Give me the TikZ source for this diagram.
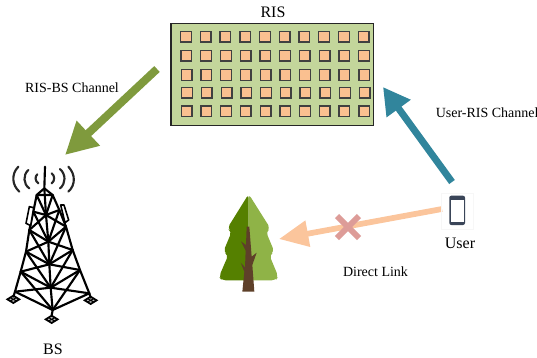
\documentclass[tikz,border=0pt]{standalone}
\usepackage{fontspec}
\setmainfont{Liberation Serif}
\usetikzlibrary{arrows.meta}
\definecolor{risfill}{HTML}{C3D69B}
\definecolor{cell}{HTML}{FAC090}
\definecolor{greenarrow}{HTML}{7F9A3D}
\definecolor{tealarrow}{HTML}{31859C}
\definecolor{peacharrow}{HTML}{FBC59C}
\definecolor{crossmark}{HTML}{DD9C98}
\definecolor{treedark}{HTML}{558000}
\definecolor{treelight}{HTML}{8FB347}
\definecolor{trunk}{HTML}{5E4029}
\definecolor{phone}{HTML}{3A4558}
\tikzset{
  big/.style={font=\fontsize{12}{14}\selectfont,inner sep=0pt,text=black},
  small/.style={font=\fontsize{10.5}{12}\selectfont,inner sep=0pt,text=black},
  cellbox/.style={draw=black!75,line width=1pt,fill=cell,minimum size=8pt,inner sep=0pt},
  tower/.style={line width=1.6pt,black,line join=round,line cap=round},
  wave/.style={line width=1.6pt,black!85,line cap=round},
  foot/.style={line width=1.3pt,black},
}
\begin{document}
\begin{tikzpicture}[x=0.75pt,y=-0.75pt]
\useasboundingbox (0,0) rectangle (537,358);
\clip (0,0) rectangle (537,358);
% RIS
\node[draw=black!85,line width=0.9pt,fill=risfill,minimum width=152pt,minimum height=77pt,inner sep=0pt] (ris) at (272.4,74.5) {};
\node[big] (ristext) at (273,12.5) {RIS};
\foreach \r/\y/\dx in {1/36.7/0,2/55.5/0.4,3/75/0.6,4/92.7/1.1,5/111.3/0.6}{
  \foreach \c in {0,...,9}{
    \node[cellbox] (c\r-\c) at ({186+\dx+19.73*\c},\y) {};
  }
}
% arrows
\coordinate (gs) at (157,69);
\coordinate (ge) at (65,155);
\coordinate (ts) at (452,182);
\coordinate (te) at (383,87);
\coordinate (ps) at (442,209);
\coordinate (pe) at (279,239);
\draw[line width=6pt,greenarrow,-{Triangle[length=24pt,width=24pt]}] (gs) -- (ge);
\draw[line width=5.2pt,tealarrow,-{Triangle[length=20pt,width=21pt]}] (ts) -- (te);
\draw[line width=4.3pt,peacharrow,-{Triangle[length=22pt,width=19pt]}] (ps) -- (pe);
% cross
\coordinate (xc) at (348,227);
\draw[crossmark,line width=4.3pt] ([shift={(-11,-11)}]xc) -- ([shift={(11,11)}]xc);
\draw[crossmark,line width=4.3pt] ([shift={(11,-11)}]xc) -- ([shift={(-11,11)}]xc);
% labels
\node[small] (rb) at (72,88) {RIS-BS Channel};
\node[small,anchor=west] (ur) at (435.5,113) {User-RIS Channel};
\node[small] (dl) at (375.5,272) {Direct Link};
\node[big] (user) at (460,243) {User};
\node[big] (bs) at (53,349) {BS};
% phone
\draw[black!3,line width=0.4pt] (441,193) rectangle (473,229);
\fill[phone,rounded corners=1.5pt] (449.3,195.7) rectangle (465,225);
\fill[white] (450.6,199.5) rectangle (463.7,221.5);
% tree
\begin{scope}[shift={(210,180)},x=0.25pt,y=-0.25pt]
\fill[treedark,rounded corners=3pt] (116,42) -- (52,145) -- (65,155) -- (40,215) -- (55,225) -- (27,290) -- (35,301) -- (116,301) -- cycle;
\fill[treelight,rounded corners=3pt] (116,42) -- (181,145) -- (168,155) -- (193,215) -- (178,225) -- (205,290) -- (197,301) -- (116,301) -- cycle;
\fill[trunk] (97,335) -- (133,335) -- (127,255) -- (140,218) -- (125,230) -- (118,140) -- (110,140) -- (108,195) -- (93,184) -- (107,212) -- (105,262) -- (92,248) -- (103,275) -- cycle;
\end{scope}
% tower
\begin{scope}[shift={(0,155)},x=0.25pt,y=-0.25pt]
\coordinate (top) at (133,100);
\coordinate (mast) at (135,35);
\coordinate (capl) at (110,120);
\coordinate (capr) at (158,120);
\coordinate (L1) at (100,170); \coordinate (R1) at (178,165); \coordinate (C1) at (138,180);
\coordinate (L2) at (88,225);  \coordinate (R2) at (198,215); \coordinate (C2) at (145,260);
\coordinate (L3) at (78,290);  \coordinate (R3) at (218,285); \coordinate (C3) at (148,328);
\coordinate (L4) at (62,350);  \coordinate (R4) at (240,345); \coordinate (C4) at (152,398);
\coordinate (L5) at (45,410);  \coordinate (R5) at (268,415); \coordinate (C5) at (158,465);
\draw[tower] (mast) -- (top) -- (C1) -- (C2) -- (C3) -- (C4) -- (C5);
\draw[tower] (capl) -- (top) -- (capr) -- (R1) -- (R2) -- (R3) -- (R4) -- (R5);
\draw[tower] (capr) -- (capl) -- (L1) -- (L2) -- (L3) -- (L4) -- (L5);
\draw[tower] (capl) -- (C1) -- (capr);
\draw[tower] (L1) -- (C1) -- (R1);
\draw[tower] (L1) -- (C2) -- (R1);
\draw[tower] (L2) -- (C1) -- (R2);
\draw[tower] (L2) -- (C2) -- (R2);
\draw[tower] (L2) -- (C3) -- (R2);
\draw[tower] (L3) -- (C2) -- (R3);
\draw[tower] (L3) -- (C3) -- (R3);
\draw[tower] (L3) -- (C4) -- (R3);
\draw[tower] (L4) -- (C3) -- (R4);
\draw[tower] (L4) -- (C4) -- (R4);
\draw[tower] (L4) -- (C5) -- (R4);
\draw[tower] (L5) -- (C4) -- (R5);
\draw[tower] (L5) -- (C5) -- (R5);
% panels
\draw[line width=1.2pt,black,fill=white,line join=round] (88,155) -- (101,158) -- (92,212) -- (78,205) -- cycle;
\draw[line width=1.2pt,black,fill=white,line join=round] (182,150) -- (192,150) -- (206,195) -- (195,203) -- cycle;
% radio waves
\draw[wave] (55,35) .. controls (33,58) and (36,90) .. (58,110);
\draw[wave] (85,45) .. controls (68,60) and (70,88) .. (88,100);
\draw[wave] (112,58) .. controls (104,65) and (105,78) .. (115,85);
\draw[wave] (155,55) .. controls (165,62) and (165,78) .. (155,85);
\draw[wave] (180,42) .. controls (198,58) and (198,85) .. (180,100);
\draw[wave] (205,35) .. controls (227,58) and (227,90) .. (205,110);
% feet
\foreach \fx/\fy in {40/433,272/436,155/493}{
  \draw[foot,fill=black!25] (\fx-18,\fy) -- (\fx,\fy-11) -- (\fx+18,\fy) -- (\fx,\fy+11) -- cycle;
  \draw[line width=0.8pt,black] (\fx-9,\fy-5) -- (\fx+9,\fy+5) (\fx+9,\fy-5) -- (\fx-9,\fy+5);
}
\draw[tower] (L5) -- (40,425) (R5) -- (272,428) (C5) -- (155,481);
\end{scope}
\end{tikzpicture}
\end{document}
